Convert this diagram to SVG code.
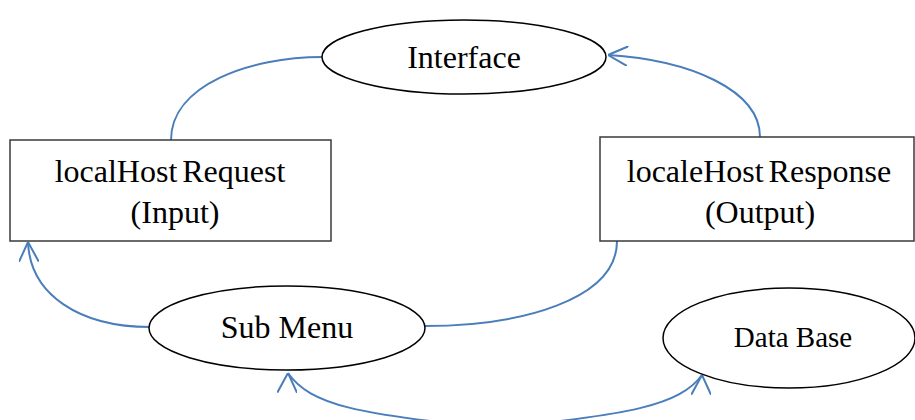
<svg xmlns="http://www.w3.org/2000/svg" width="915" height="420" viewBox="0 0 915 420">
  <style>
    .shape { fill: #ffffff; stroke: #000000; stroke-width: 1.5; }
    .box { fill: #ffffff; stroke: #3a3a3a; stroke-width: 1.5; }
    .label { font-family: "Liberation Serif", "Times New Roman", serif; font-size: 32px; fill: #000000; text-anchor: middle; }
    .tight { word-spacing: -3px; }
    .link { fill: none; stroke: #4a7ebb; stroke-width: 2; }
    .head { fill: none; stroke: #4a7ebb; stroke-width: 2; }
  </style>
  <defs>
    <marker id="vhead" viewBox="0 0 20 20" refX="20" refY="10" markerWidth="20" markerHeight="20" markerUnits="userSpaceOnUse" orient="auto">
      <path class="head" d="M0,0 L20,10 L0,20"/>
    </marker>
    <!-- upward-pointing head for the bottom arc ends -->
    <marker id="vhead-up" viewBox="0 0 20 20" refX="20" refY="10" markerWidth="20" markerHeight="20" markerUnits="userSpaceOnUse" orient="-88">
      <path class="head" d="M0,0 L20,10 L0,20"/>
    </marker>
  </defs>
  <rect width="915" height="420" fill="#ffffff"/>

  <g id="connectors">
    <!-- Request box up to Interface -->
    <path class="link" d="M171,140 C171,85 250,57 322,57"/>
    <!-- Response box up to Interface -->
    <path class="link" d="M760,137 C760,90 690,60 608,55" marker-end="url(#vhead)"/>
    <!-- Response box down to Sub Menu -->
    <path class="link" d="M617,241 C617,300 520,326 425,326"/>
    <!-- Sub Menu back to Request box -->
    <path class="link" d="M150,327 C80,327 30,295 28,242" marker-end="url(#vhead)"/>
    <!-- Sub Menu <-> Data Base -->
    <path class="link" d="M288,373 C310,405 360,415 495,428 C630,415 680,405 702,375" marker-start="url(#vhead-up)" marker-end="url(#vhead-up)"/>
  </g>

  <g id="interface">
    <ellipse class="shape" cx="464" cy="57" rx="142" ry="37"/>
    <text class="label" x="464" y="68">Interface</text>
  </g>

  <g id="request">
    <rect class="box" x="10" y="140" width="321" height="101"/>
    <text class="label tight" x="170" y="182">localHost Request</text>
    <text class="label" x="175" y="223">(Input)</text>
  </g>

  <g id="response">
    <rect class="box" x="600" y="137" width="314" height="104"/>
    <text class="label tight" x="759" y="182">localeHost Response</text>
    <text class="label" x="760" y="223">(Output)</text>
  </g>

  <g id="submenu">
    <ellipse class="shape" cx="287" cy="328" rx="138" ry="42"/>
    <text class="label" x="287" y="338">Sub Menu</text>
  </g>

  <g id="database">
    <ellipse class="shape" cx="789" cy="338" rx="126" ry="50"/>
    <text class="label" x="793" y="347" style="font-size:29px">Data Base</text>
  </g>
</svg>
